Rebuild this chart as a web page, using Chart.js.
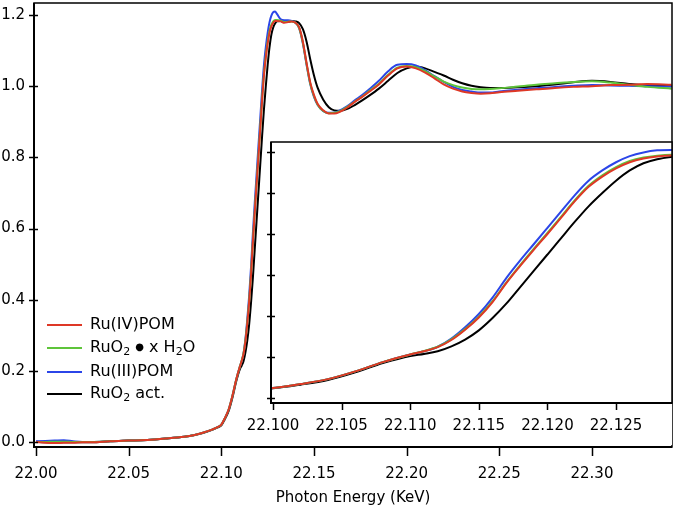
<!DOCTYPE html>
<html>
<head>
<meta charset="utf-8">
<script src="https://cdn.jsdelivr.net/npm/chart.js@4.4.1/dist/chart.umd.min.js"></script>
<style>
  body { margin: 0; background: #fff; }
  #wrap { position: relative; width: 677px; height: 508px; font-family: "DejaVu Sans", sans-serif; }
  #main { position: absolute; left: 0; top: 0; }
  #inset { position: absolute; left: 230px; top: 132px; }
  .leg { position: absolute; left: 47px; font-size: 16px; line-height: 18px; color: #000; white-space: nowrap; }
  .leg i { display: inline-block; width: 35px; height: 2px; vertical-align: middle; margin-right: 8px; }
  .leg sub { font-size: 11px; vertical-align: -3px; line-height: 0; }
  .leg b { font-weight: normal; font-size: 10px; vertical-align: 2px; }
</style>
</head>
<body>
<div id="wrap">
  <canvas id="main" width="677" height="508"></canvas>
  <canvas id="inset" width="447" height="320"></canvas>
  <div class="leg" style="top:315px"><i style="background:#de3826"></i>Ru(IV)POM</div>
  <div class="leg" style="top:338px"><i style="background:#5ec43a"></i>RuO<sub>2</sub> <b>&#9679;</b> x H<sub>2</sub>O</div>
  <div class="leg" style="top:362px"><i style="background:#2b45e8"></i>Ru(III)POM</div>
  <div class="leg" style="top:384px"><i style="background:#000"></i>RuO<sub>2</sub> act.</div>
</div>
<script>
// photon energy (keV)
var energy = [
  22.000, 22.005, 22.010, 22.015, 22.020, 22.025, 22.030, 22.040, 22.050, 22.060, 22.070, 22.080, 22.085, 22.090, 22.095, 22.098,
  22.100, 22.102, 22.104, 22.106, 22.108,
  22.110, 22.111, 22.112, 22.113, 22.114, 22.115, 22.116, 22.117, 22.118, 22.119, 22.120, 22.121, 22.122, 22.123, 22.124, 22.125, 22.126, 22.127, 22.128, 22.129, 22.130,
  22.132, 22.134, 22.136, 22.138, 22.140, 22.142, 22.144, 22.146, 22.148, 22.150, 22.152, 22.155, 22.158, 22.161, 22.164, 22.168, 22.172, 22.176, 22.180, 22.185,
  22.190, 22.195, 22.200, 22.205, 22.210, 22.215, 22.220, 22.225, 22.230, 22.235, 22.240, 22.245, 22.250, 22.260, 22.270, 22.280, 22.290, 22.300, 22.310, 22.320, 22.330, 22.343
];

var ruIVPOM = [
  0.000, -0.002, -0.003, -0.002, -0.002, -0.001, -0.001, 0.002, 0.004, 0.006, 0.010, 0.015, 0.019, 0.026, 0.035, 0.042,
  0.049, 0.068, 0.092, 0.130, 0.175,
  0.212, 0.228, 0.248, 0.283, 0.333, 0.393, 0.468, 0.560, 0.643, 0.723, 0.800, 0.880, 0.960, 1.030, 1.080, 1.120, 1.150, 1.168, 1.178, 1.183, 1.183,
  1.182, 1.178, 1.180, 1.182, 1.178, 1.165, 1.125, 1.065, 1.010, 0.975, 0.950, 0.932, 0.923, 0.923, 0.928, 0.940, 0.956, 0.970, 0.985, 1.005,
  1.030, 1.050, 1.055, 1.050, 1.038, 1.022, 1.005, 0.993, 0.985, 0.981, 0.979, 0.980, 0.983, 0.987, 0.991, 0.995, 0.998, 1.000, 1.003, 1.004, 1.006, 1.004
];

var ruO2hyd = [
  0.000, 0.000, 0.001, 0.001, 0.000, 0.000, 0.000, 0.002, 0.004, 0.006, 0.010, 0.015, 0.019, 0.026, 0.035, 0.042,
  0.049, 0.068, 0.092, 0.130, 0.175,
  0.212, 0.229, 0.250, 0.286, 0.336, 0.397, 0.472, 0.563, 0.647, 0.727, 0.805, 0.885, 0.965, 1.035, 1.086, 1.126, 1.156, 1.173, 1.182, 1.186, 1.186,
  1.184, 1.180, 1.181, 1.182, 1.178, 1.163, 1.122, 1.062, 1.007, 0.972, 0.948, 0.930, 0.924, 0.925, 0.930, 0.942, 0.957, 0.971, 0.987, 1.007,
  1.032, 1.052, 1.057, 1.053, 1.042, 1.027, 1.013, 1.003, 0.996, 0.992, 0.991, 0.992, 0.994, 0.999, 1.004, 1.008, 1.012, 1.014, 1.010, 1.004, 0.998, 0.993
];

var ruIIIPOM = [
  0.002, 0.003, 0.004, 0.005, 0.002, 0.000, 0.000, 0.002, 0.004, 0.006, 0.010, 0.015, 0.019, 0.026, 0.035, 0.042,
  0.049, 0.068, 0.092, 0.130, 0.175,
  0.212, 0.228, 0.250, 0.290, 0.345, 0.410, 0.490, 0.585, 0.670, 0.750, 0.830, 0.910, 0.990, 1.060, 1.110, 1.150, 1.180, 1.198, 1.208, 1.210, 1.203,
  1.188, 1.185, 1.185, 1.183, 1.178, 1.163, 1.120, 1.060, 1.005, 0.970, 0.947, 0.930, 0.925, 0.926, 0.932, 0.944, 0.960, 0.975, 0.992, 1.015,
  1.042, 1.060, 1.062, 1.058, 1.045, 1.028, 1.012, 0.998, 0.989, 0.985, 0.982, 0.982, 0.985, 0.990, 0.994, 0.998, 1.001, 1.003, 1.002, 1.001, 1.000, 0.999
];

var ruO2act = [
  0.001, -0.001, -0.002, -0.001, -0.001, -0.001, -0.001, 0.002, 0.004, 0.006, 0.010, 0.015, 0.019, 0.025, 0.034, 0.041,
  0.047, 0.065, 0.088, 0.125, 0.170,
  0.205, 0.215, 0.228, 0.252, 0.285, 0.330, 0.390, 0.460, 0.540, 0.620, 0.700, 0.780, 0.860, 0.935, 1.000, 1.060, 1.110, 1.145, 1.165, 1.176, 1.182,
  1.183, 1.180, 1.181, 1.183, 1.182, 1.177, 1.160, 1.125, 1.075, 1.030, 0.995, 0.962, 0.941, 0.932, 0.931, 0.936, 0.947, 0.960, 0.974, 0.993,
  1.015, 1.037, 1.050, 1.055, 1.050, 1.040, 1.030, 1.018, 1.008, 1.001, 0.997, 0.995, 0.995, 0.997, 1.000, 1.005, 1.011, 1.015, 1.012, 1.006, 1.002, 1.000
];

var mainXTicks = [22.00, 22.05, 22.10, 22.15, 22.20, 22.25, 22.30];
var mainYTicks = [0.0, 0.2, 0.4, 0.6, 0.8, 1.0, 1.2];
var insetXTicks = [22.100, 22.105, 22.110, 22.115, 22.120, 22.125];
var insetYTicks = [0.0, 0.2, 0.4, 0.6, 0.8, 1.0, 1.2];

var font = { family: 'DejaVu Sans', size: 15 };

function pts(vals) {
  return energy.map(function (e, i) { return { x: e, y: vals[i] }; });
}

function makeDatasets() {
  return [
    { label: 'Ru(IV)POM', data: pts(ruIVPOM), borderColor: '#de3826' },
    { label: 'RuO2 • x H2O', data: pts(ruO2hyd), borderColor: '#5ec43a' },
    { label: 'Ru(III)POM', data: pts(ruIIIPOM), borderColor: '#2b45e8' },
    { label: 'RuO2 act.', data: pts(ruO2act), borderColor: '#000000' }
  ].map(function (d) {
    d.borderWidth = 2;
    d.pointRadius = 0;
    d.fill = false;
    d.cubicInterpolationMode = 'monotone';
    return d;
  });
}

// box, axis lines and tick marks
var framePlugin = {
  id: 'frame',
  beforeDraw: function (chart, args, o) {
    if (!o.fill) return;
    var a = chart.chartArea, ctx = chart.ctx;
    ctx.save();
    ctx.fillStyle = '#fff';
    ctx.fillRect(a.left, a.top, a.right - a.left, a.bottom - a.top + o.fill);
    ctx.restore();
  },
  afterDraw: function (chart, args, o) {
    var a = chart.chartArea, ctx = chart.ctx, x = chart.scales.x, y = chart.scales.y;
    ctx.save();
    ctx.strokeStyle = '#000';
    ctx.lineWidth = 1.5;
    ctx.strokeRect(a.left, a.top, a.right - a.left, a.bottom - a.top);
    ctx.lineWidth = 2;
    ctx.beginPath();
    ctx.moveTo(a.left, a.top);
    ctx.lineTo(a.left, a.bottom);
    ctx.lineTo(a.right, a.bottom);
    ctx.stroke();
    ctx.lineWidth = 1.5;
    ctx.beginPath();
    y.ticks.forEach(function (t) {
      var p = Math.round(y.getPixelForValue(t.value)) + 0.5;
      ctx.moveTo(a.left - o.yOut, p);
      ctx.lineTo(a.left + o.yIn, p);
    });
    x.ticks.forEach(function (t) {
      var p = Math.round(x.getPixelForValue(t.value)) + 0.5;
      ctx.moveTo(p, a.bottom);
      ctx.lineTo(p, a.bottom + o.xOut);
    });
    ctx.stroke();
    ctx.restore();
  }
};

function setTicks(list) {
  return function (s) { s.ticks = list.map(function (v) { return { value: v }; }); };
}

new Chart(document.getElementById('main'), {
  type: 'line',
  data: { datasets: makeDatasets() },
  plugins: [framePlugin],
  options: {
    responsive: false,
    animation: false,
    layout: { padding: { top: 3, right: 5, left: 0, bottom: 0 } },
    plugins: { legend: { display: false }, tooltip: { enabled: false },
      frame: { yOut: 5, yIn: 4, xOut: 9, fill: 0 } },
    scales: {
      x: {
        type: 'linear', min: 21.9989, max: 22.3432,
        grid: { display: false, drawTicks: false }, border: { display: false },
        afterBuildTicks: setTicks(mainXTicks),
        afterFit: function (s) { s.height = 61; s.paddingLeft = 0; s.paddingRight = 0; },
        ticks: { font: font, color: '#000', padding: 18, maxRotation: 0, autoSkip: false,
          callback: function (v) { return Number(v).toFixed(2); } },
        title: { display: true, text: 'Photon Energy (KeV)', font: font, color: '#000', padding: { top: 0, bottom: 1 } }
      },
      y: {
        min: -0.014, max: 1.2337,
        grid: { display: false, drawTicks: false }, border: { display: false },
        afterBuildTicks: setTicks(mainYTicks),
        afterFit: function (s) { s.width = 34; s.paddingTop = 0; s.paddingBottom = 0; },
        ticks: { font: font, color: '#000', padding: 9, autoSkip: false,
          callback: function (v) { return Number(v).toFixed(1); } }
      }
    }
  }
});

new Chart(document.getElementById('inset'), {
  type: 'line',
  data: { datasets: makeDatasets() },
  plugins: [framePlugin],
  options: {
    responsive: false,
    animation: false,
    layout: { padding: { top: 10, right: 5, left: 0, bottom: 0 } },
    plugins: { legend: { display: false }, tooltip: { enabled: false },
      frame: { yOut: 4, yIn: 4, xOut: 7, fill: 42 } },
    scales: {
      x: {
        type: 'linear', min: 22.09985, max: 22.12908,
        grid: { display: false, drawTicks: false }, border: { display: false },
        afterBuildTicks: setTicks(insetXTicks),
        afterFit: function (s) { s.height = 49; s.paddingLeft = 0; s.paddingRight = 0; },
        ticks: { font: font, color: '#000', padding: 14, maxRotation: 0, autoSkip: false,
          callback: function (v) { return Number(v).toFixed(3); } }
      },
      y: {
        min: -0.0244, max: 1.2488,
        grid: { display: false, drawTicks: false }, border: { display: false },
        afterBuildTicks: setTicks(insetYTicks),
        afterFit: function (s) { s.width = 41; s.paddingTop = 0; s.paddingBottom = 0; },
        ticks: { display: false }
      }
    }
  }
});
</script>
</body>
</html>
